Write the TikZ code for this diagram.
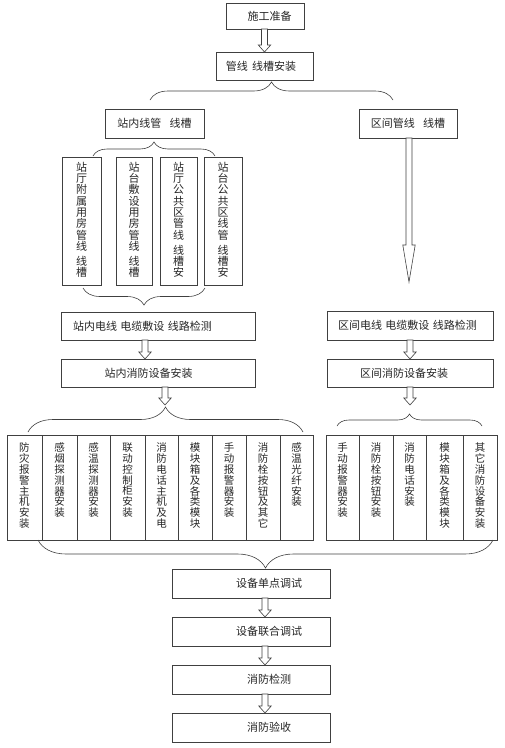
\documentclass[tikz,border=0pt]{standalone}
\usepackage{fontspec}
\newfontfamily\cjk{Noto Sans CJK SC}
\usetikzlibrary{calc,decorations.pathreplacing}

% column of characters, set from the top of a box of given height
\newcommand\vcol[3]{\parbox[c][#1][t]{1.4em}{\centering\vspace*{#2}#3}}

\tikzset{
  ink/.style={draw=black!75, line width=0.6pt},
  hbox/.style={ink, rectangle, inner sep=0pt, outer sep=0pt,
    font=\cjk\fontsize{11}{13}\selectfont, text=black!85},
  vbox/.style={ink, rectangle, inner sep=0pt, outer sep=0pt,
    anchor=north west, text=black!85},
  vtop/.style={vbox, minimum height=128pt,
    font=\cjk\fontsize{11}{11.3}\selectfont},
  vrow/.style={vbox, minimum height=105pt,
    font=\cjk\fontsize{10.5}{10.8}\selectfont},
  tshift/.style={execute at begin node={\hspace*{#1}}},
  curly/.style={ink, decorate, decoration={brace, amplitude=#1}},
  hollow/.style={ink, fill=white, to path={
    let \p1=(\tikztostart), \p2=(\tikztotarget) in
    (\x2-3pt,\y1) -- (\x2-3pt,\y2+#1) -- (\x2-6.2pt,\y2+#1) -- (\x2,\y2)
    -- (\x2+6.2pt,\y2+#1) -- (\x2+3pt,\y2+#1) -- (\x2+3pt,\y1) -- cycle}},
  hollow/.default=7pt
}

\begin{document}
\begin{tikzpicture}[x=1pt, y=-1pt]
  \useasboundingbox (0,0) rectangle (505,748);

  % main line
  \node [hbox, minimum width=78pt, minimum height=26pt, tshift=9pt]
    (start) at (265,16) {施工准备};
  \node [hbox, minimum width=97pt, minimum height=28pt, tshift=-7pt]
    (guanxian) at (264.5,66) {管线\hspace{0.4em}线槽安装};
  \node [hbox, minimum width=99pt, minimum height=29pt]
    (zhannei) at (154.5,123.5) {站内线管\hspace{0.75em}线槽};
  \node [hbox, minimum width=98pt, minimum height=29pt]
    (qujian) at (408,123.5) {区间管线\hspace{0.75em}线槽};

  % station conduits
  \node [vtop, minimum width=39pt] (v1) at (62,157)
    {\vcol{128pt}{5pt}{站\\厅\\附\\属\\用\\房\\管\\线\\[4pt]线\\槽}};
  \node [vtop, minimum width=36pt] (v2) at (116,157)
    {\vcol{128pt}{5pt}{站\\台\\敷\\设\\用\\房\\管\\线\\[4pt]线\\槽}};
  \node [vtop, minimum width=37pt] (v3) at (160,157)
    {\vcol{128pt}{5pt}{站\\厅\\公\\共\\区\\管\\线\\[4pt]线\\槽\\安}};
  \node [vtop, minimum width=38pt] (v4) at (204,157)
    {\vcol{128pt}{5pt}{站\\台\\公\\共\\区\\线\\管\\[4pt]线\\槽\\安}};

  \node [hbox, minimum width=194pt, minimum height=28pt, tshift=-31pt]
    (zndx) at (158,326) {站内电线\hspace{0.3em}电缆敷设\hspace{0.3em}线路检测};
  \node [hbox, minimum width=194pt, minimum height=28pt, tshift=-19pt]
    (znxf) at (158,373) {站内消防设备安装};
  \node [hbox, minimum width=166pt, minimum height=29pt, tshift=-5pt]
    (qjdx) at (410,325.5) {区间电线\hspace{0.3em}电缆敷设\hspace{0.3em}线路检测};
  \node [hbox, minimum width=166pt, minimum height=28pt, tshift=-12pt]
    (qjxf) at (410,373) {区间消防设备安装};

  % station equipment
  \node [vrow, minimum width=35pt] (f1) at (7,435)
    {\vcol{105pt}{8pt}{防\\灾\\报\\警\\主\\机\\安\\装}};
  \node [vrow, minimum width=35pt] (f2) at (42,435)
    {\vcol{105pt}{8pt}{感\\烟\\探\\测\\器\\安\\装}};
  \node [vrow, minimum width=33pt] (f3) at (77,435)
    {\vcol{105pt}{8pt}{感\\温\\探\\测\\器\\安\\装}};
  \node [vrow, minimum width=35pt] (f4) at (110,435)
    {\vcol{105pt}{8pt}{联\\动\\控\\制\\柜\\安\\装}};
  \node [vrow, minimum width=33pt] (f5) at (145,435)
    {\vcol{105pt}{8pt}{消\\防\\电\\话\\主\\机\\及\\电}};
  \node [vrow, minimum width=34pt] (f6) at (178,435)
    {\vcol{105pt}{8pt}{模\\块\\箱\\及\\各\\类\\模\\块}};
  \node [vrow, minimum width=34pt] (f7) at (212,435)
    {\vcol{105pt}{8pt}{手\\动\\报\\警\\器\\安\\装}};
  \node [vrow, minimum width=34pt] (f8) at (246,435)
    {\vcol{105pt}{8pt}{消\\防\\栓\\按\\钮\\及\\其\\它}};
  \node [vrow, minimum width=33pt] (f9) at (280,435)
    {\vcol{105pt}{8pt}{感\\温\\光\\纤\\安\\装}};

  % section equipment
  \node [vrow, minimum width=33pt] (g1) at (326,435)
    {\vcol{105pt}{8pt}{手\\动\\报\\警\\器\\安\\装}};
  \node [vrow, minimum width=34pt] (g2) at (359,435)
    {\vcol{105pt}{8pt}{消\\防\\栓\\按\\钮\\安\\装}};
  \node [vrow, minimum width=33pt] (g3) at (393,435)
    {\vcol{105pt}{8pt}{消\\防\\电\\话\\安\\装}};
  \node [vrow, minimum width=37pt] (g4) at (426,435)
    {\vcol{105pt}{8pt}{模\\块\\箱\\及\\各\\类\\模\\块}};
  \node [vrow, minimum width=34pt] (g5) at (463,435)
    {\vcol{105pt}{8pt}{其\\它\\消\\防\\设\\备\\安\\装}};

  % testing
  \node [hbox, minimum width=158pt, minimum height=29pt, tshift=36pt]
    (t1) at (251,583.5) {设备单点调试};
  \node [hbox, minimum width=158pt, minimum height=29pt, tshift=36pt]
    (t2) at (251,631.5) {设备联合调试};
  \node [hbox, minimum width=158pt, minimum height=29pt, tshift=36pt]
    (t3) at (251,679.5) {消防检测};
  \node [hbox, minimum width=158pt, minimum height=29pt, tshift=36pt]
    (t4) at (251,727.5) {消防验收};

  % brace ends and arrow ends
  \coordinate (b1l) at (150,100);  \coordinate (b1r) at (393,100);
  \coordinate (b2l) at (93,156);   \coordinate (b2r) at (215,156);
  \coordinate (b3l) at (83,288);   \coordinate (b3r) at (205,288);
  \coordinate (b4l) at (28,432);   \coordinate (b4r) at (303,432);
  \coordinate (b5l) at (337,426);  \coordinate (b5r) at (482,426);
  \coordinate (b6l) at (38,540);   \coordinate (b6r) at (493,540);
  \coordinate (qjend) at (409,282);
  \coordinate (lbtip) at (165,405);
  \coordinate (rbtip) at (410,405);

  \draw [curly=18pt] (b1l) -- (b1r);
  \draw [curly=14pt] (b2l) -- (b2r);
  \draw [curly=17pt] (b3r) -- (b3l);
  \draw [curly=25pt] (b4l) -- (b4r);
  \draw [curly=12pt] (b5l) -- (b5r);
  \draw [curly=28pt] (b6r) -- (b6l);

  \draw [hollow] (start.south) to (guanxian.north);
  \draw [hollow=37pt] (qujian.south) to (qjend);
  \draw [hollow] (zndx.south) to ($(znxf.north)+(-13,0)$);
  \draw [hollow] (znxf.south) to (lbtip);
  \draw [hollow] (qjdx.south) to (qjxf.north);
  \draw [hollow] (qjxf.south) to (rbtip);
  \draw [hollow] (t1.south) to ($(t2.north)+(14,0)$);
  \draw [hollow] (t2.south) to ($(t3.north)+(14,0)$);
  \draw [hollow] (t3.south) to ($(t4.north)+(14,0)$);
\end{tikzpicture}
\end{document}
